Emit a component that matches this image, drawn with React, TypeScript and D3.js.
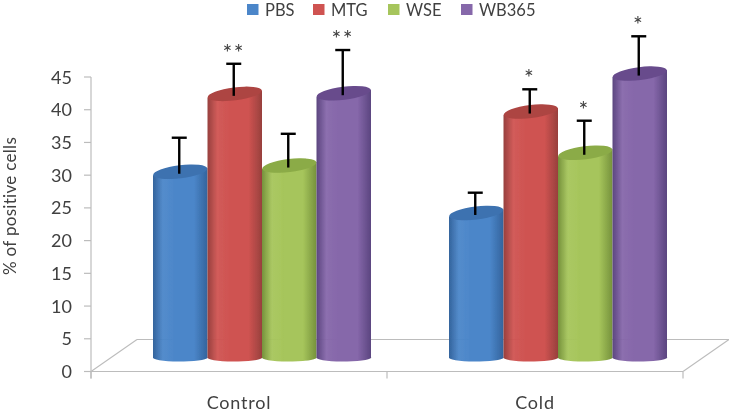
import React from "react";
import * as d3 from "d3";

const categories = ["Control", "Cold"];
const series = ["PBS", "MTG", "WSE", "WB365"];
const controlValues = [28, 39.9, 28.95, 40];
const coldValues = [21.7, 37.2, 30.9, 43];
const controlErrors = [5.2, 4.6, 4.85, 6.6];
const coldErrors = [3.1, 3.4, 4.9, 5.7];
const controlStars = ["", "**", "", "**"];
const coldStars = ["", "*", "*", "*"];
const yTicks = [0, 5, 10, 15, 20, 25, 30, 35, 40, 45];
const palette = [
  { dark: "#33639c", mid: "#4b86c9", top: "#3d72b0" },
  { dark: "#97403d", mid: "#cf5351", top: "#ad4442" },
  { dark: "#75913c", mid: "#a6c55b", top: "#8bab47" },
  { dark: "#5a457f", mid: "#8667aa", top: "#674b8c" },
];
const legendX = [247, 313, 388, 461];

const W = 729, H = 412;
const axisX = 91, frontY = 371.5, axisTopY = 77, frontRight = 683;
const depthX = 46, depthY = 32;

export default function App() {
  const y = d3.scaleLinear().domain([0, 45]).range([frontY, axisTopY]);
  const unit = y(0) - y(1);
  const barZero = y(0) - 16.5;
  const top = (v: number) => barZero - v * unit;
  const xGroup = d3.scaleBand<string>().domain(categories).range([113, 705]);
  const xBar = d3.scaleBand<string>().domain(series).range([0, 218]);
  const catX = d3.scaleBand<string>().domain(categories).range([axisX, frontRight]);
  const rx = xBar.bandwidth() / 2;
  const groups = [
    { cat: "Control", vals: controlValues, errs: controlErrors, stars: controlStars },
    { cat: "Cold", vals: coldValues, errs: coldErrors, stars: coldStars },
  ];
  const textColor = "#404040";
  const font = "Lato, 'Open Sans', sans-serif";
  return (
    <svg width={W} height={H} style={{ position: "absolute", left: 0, top: 0, background: "#fff" }} fontFamily={font}>
      <defs>
        {palette.map((p, i) => (
          <linearGradient key={i} id={`g${i}`} x1="0" x2="1" y1="0" y2="0">
            <stop offset="0" stopColor={p.dark} />
            <stop offset="0.18" stopColor={p.mid} stopOpacity={0.95} />
            <stop offset="0.4" stopColor={p.mid} />
            <stop offset="0.75" stopColor={p.mid} />
            <stop offset="1" stopColor={p.dark} />
          </linearGradient>
        ))}
        <filter id="soft" x="-5%" y="-5%" width="110%" height="110%">
          <feGaussianBlur stdDeviation="0.55" />
        </filter>
      </defs>
      <g filter="url(#soft)">
        <g stroke="#bcbcbc" strokeWidth={1.2} fill="none">
          <line x1={axisX} x2={axisX} y1={axisTopY} y2={frontY + 7} />
          {yTicks.map((t) => (
            <line key={t} x1={axisX - 7} x2={axisX} y1={y(t)} y2={y(t)} />
          ))}
          <line x1={axisX} x2={frontRight} y1={frontY} y2={frontY} />
          <line x1={axisX} x2={axisX + depthX} y1={frontY} y2={frontY - depthY} />
          <line x1={axisX + depthX} x2={frontRight + depthX} y1={frontY - depthY} y2={frontY - depthY} />
          <line x1={frontRight} x2={frontRight + depthX} y1={frontY} y2={frontY - depthY} />
          {[axisX, catX("Cold")!, frontRight].map((t) => (
            <line key={t} x1={t} x2={t} y1={frontY} y2={frontY + 7} />
          ))}
        </g>
        {yTicks.map((t) => (
          <text key={t} x={72} y={y(t) + 6.5} textAnchor="end" fontSize={18} fill={textColor}>{t}</text>
        ))}
        <text transform="translate(16,206) rotate(-90)" textAnchor="middle" fontSize={17} letterSpacing={0.3} fill={textColor}>% of positive cells</text>
        {categories.map((c) => (
          <text key={c} x={catX(c)! + catX.bandwidth() / 2} y={409} textAnchor="middle" fontSize={18} letterSpacing={0.8} fill={textColor}>{c}</text>
        ))}
        {series.map((s, i) => (
          <g key={s}>
            <rect x={legendX[i]} y={4} width={11.5} height={11} fill={palette[i].mid} />
            <text x={legendX[i] + 18} y={15.5} fontSize={16.5} fill={textColor}>{s}</text>
          </g>
        ))}
        {groups.map((g) => {
          const cx0 = xGroup(g.cat)! + xGroup.bandwidth() / 2 - 108;
          return (
            <g key={g.cat}>
              {series.map((s, i) => {
                const l = cx0 + xBar(s)!;
                const r = l + xBar.bandwidth();
                const cx = (l + r) / 2;
                const ty = top(g.vals[i]);
                const baseY = barZero + 3;
                const d = `M${l},${ty + 3.5}L${l},${baseY}A${rx},4 0 0 0 ${r},${baseY - 1}L${r},${ty - 3.5}Z`;
                return (
                  <g key={s}>
                    <path d={d} fill={`url(#g${i})`} />
                    <ellipse cx={cx} cy={ty} rx={rx} ry={6.5} transform={`rotate(-7 ${cx} ${ty})`} fill={palette[i].top} />
                  </g>
                );
              })}
              {series.map((s, i) => {
                const cx = cx0 + xBar(s)! + xBar.bandwidth() / 2 - 1;
                const ty = top(g.vals[i]);
                const ey = top(g.vals[i] + g.errs[i]);
                return (
                  <g key={s + "e"}>
                    <line x1={cx} x2={cx} y1={ty + 2} y2={ey} stroke="#000" strokeWidth={2.4} />
                    <line x1={cx - 7.5} x2={cx + 7.5} y1={ey} y2={ey} stroke="#000" strokeWidth={2.4} />
                    {g.stars[i] && (
                      <text x={cx} y={ey - 3} textAnchor="middle" fontSize={23} letterSpacing={1.5} fill={textColor}>{g.stars[i]}</text>
                    )}
                  </g>
                );
              })}
            </g>
          );
        })}
      </g>
    </svg>
  );
}
